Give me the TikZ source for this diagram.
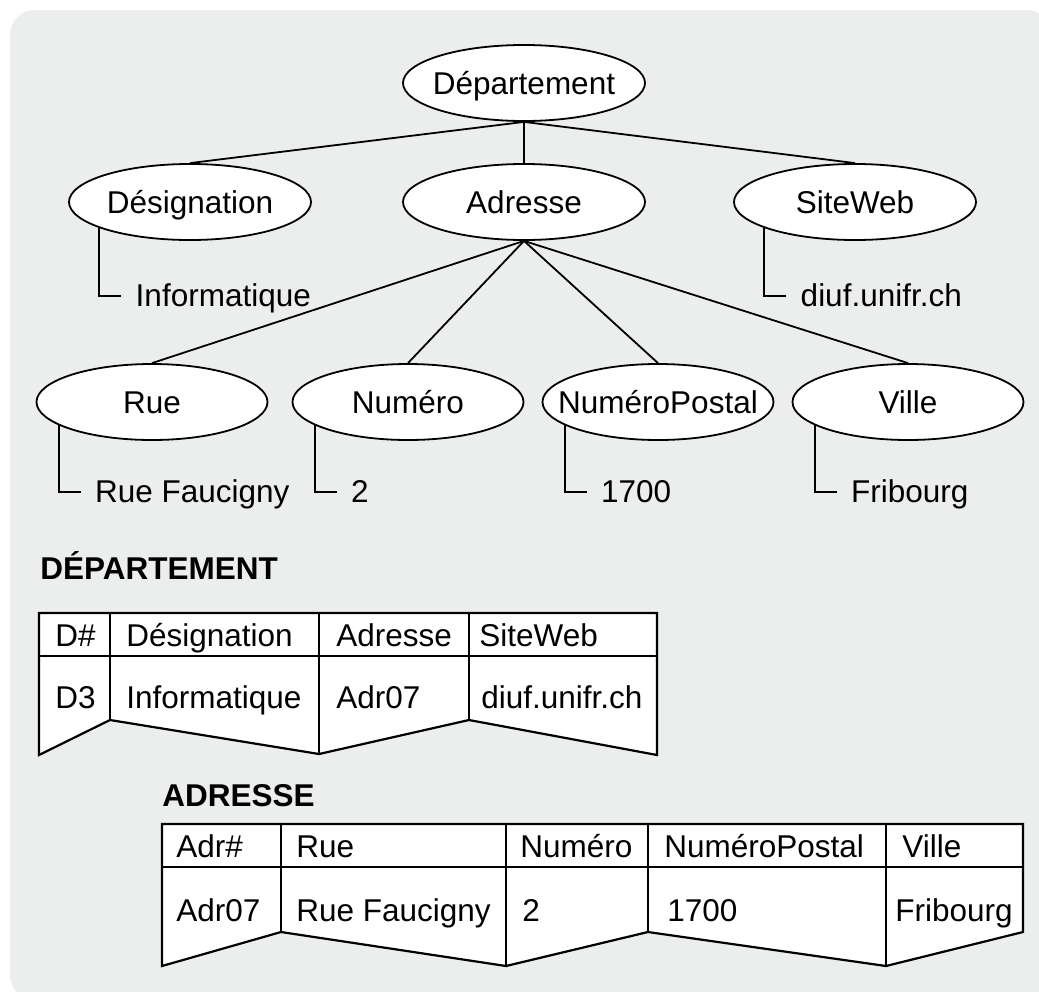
\documentclass[tikz,border=0pt]{standalone}
\usepackage{fontspec}
\setmainfont{Liberation Sans}
\usepackage{tikz}
\usetikzlibrary{shapes.geometric,positioning}
\definecolor{panel}{RGB}{236,237,237}

\begin{document}
\begin{tikzpicture}[
  x=0.5pt, y=-0.5pt,
  font=\fontsize{15.75}{19}\selectfont,
  attr/.style={ellipse, draw, line width=0.9pt, fill=white, inner xsep=-20pt,
    inner ysep=0pt, text height=11.3pt, text depth=0pt,
    minimum width=121pt, minimum height=38pt},
  subattr/.style={attr, minimum width=115.5pt},
  val/.style={anchor=west, inner xsep=7pt, inner ysep=0pt, text height=11pt, text depth=1pt},
  link/.style={line width=0.9pt},
  cell/.style={anchor=base west, inner sep=0pt},
  title/.style={anchor=base west, inner sep=0pt, font=\fontsize{15.75}{19}\selectfont\bfseries},
  grid/.style={line width=1.1pt, line join=miter}
]
\useasboundingbox (0,0) rectangle (1039,991);
\clip (0,0) rectangle (1039,991);
\fill[panel, rounded corners=12.5pt] (10,10) rectangle (1052,1000);

% tree
\node[attr] (dept) at (524,83) {Département};
\node[attr] (desig) at (190,202) {Désignation};
\node[attr] (adr) at (524,202) {Adresse};
\node[attr] (web) at (855,202) {SiteWeb};
\node[subattr] (rue) at (152,402) {Rue};
\node[subattr] (num) at (408,402) {Numéro};
\node[subattr] (npa) at (658,402) {NuméroPostal};
\node[subattr] (ville) at (908,402) {Ville};

\draw[link] (dept.south) -- (desig.north);
\draw[link] (dept.south) -- (adr.north);
\draw[link] (dept.south) -- (web.north);
\draw[link] (adr.south) -- (rue.north);
\draw[link] (adr.south) -- (num.north);
\draw[link] (adr.south) -- (npa.north);
\draw[link] (adr.south) -- (ville.north);

% values
\node[val] (info) at ([shift={(22,68)}]desig.-164) {Informatique};
\node[val] (url) at ([shift={(22,68)}]web.-164) {diuf.unifr.ch};
\node[val] (street) at ([shift={(22,67)}]rue.-166) {Rue Faucigny};
\node[val] (nr) at ([shift={(22,67)}]num.-166) {2};
\node[val] (zip) at ([shift={(22,67)}]npa.-166) {1700};
\node[val] (city) at ([shift={(22,67)}]ville.-166) {Fribourg};

\draw[link] (desig.-164) |- (info.west);
\draw[link] (web.-164) |- (url.west);
\draw[link] (rue.-166) |- (street.west);
\draw[link] (num.-166) |- (nr.west);
\draw[link] (npa.-166) |- (zip.west);
\draw[link] (ville.-166) |- (city.west);

% table DEPARTEMENT
\node[title] (tdept) at (40,579) {DÉPARTEMENT};
\filldraw[grid, fill=white] (39,613) -- (657,613) -- (657,755) -- (469,720)
  -- (319,754) -- (110,720) -- (39,755) -- cycle;
\draw[grid] (39,656) -- (657,656);
\draw[grid] (110,613) -- (110,720) (319,613) -- (319,754) (469,613) -- (469,720);
\node[cell] (hd) at (55,646) {D\#};
\node[cell] (hdesig) at (126,646) {Désignation};
\node[cell] (hadr) at (336,646) {Adresse};
\node[cell] (hweb) at (479,646) {SiteWeb};
\node[cell] (vd) at (55,708) {D3};
\node[cell] (vdesig) at (126,708) {Informatique};
\node[cell] (vadr) at (336,708) {Adr07};
\node[cell] (vweb) at (481,708) {diuf.unifr.ch};

% table ADRESSE
\node[title] (tadr) at (162,806) {ADRESSE};
\filldraw[grid, fill=white] (162,824) -- (1023,824) -- (1023,932) -- (886,966)
  -- (648,932) -- (506,966) -- (281,932) -- (162,966) -- cycle;
\draw[grid] (162,867) -- (1023,867);
\draw[grid] (281,824) -- (281,932) (506,824) -- (506,966)
  (648,824) -- (648,932) (886,824) -- (886,966);
\node[cell] (ha) at (176,857) {Adr\#};
\node[cell] (hrue) at (296,857) {Rue};
\node[cell] (hnum) at (520,857) {Numéro};
\node[cell] (hnpa) at (664,857) {NuméroPostal};
\node[cell] (hville) at (902,857) {Ville};
\node[cell] (va) at (176,921) {Adr07};
\node[cell] (vrue) at (296,921) {Rue Faucigny};
\node[cell] (vnum) at (522,921) {2};
\node[cell] (vnpa) at (667,921) {1700};
\node[cell] (vville) at (895,921) {Fribourg};
\end{tikzpicture}
\end{document}
